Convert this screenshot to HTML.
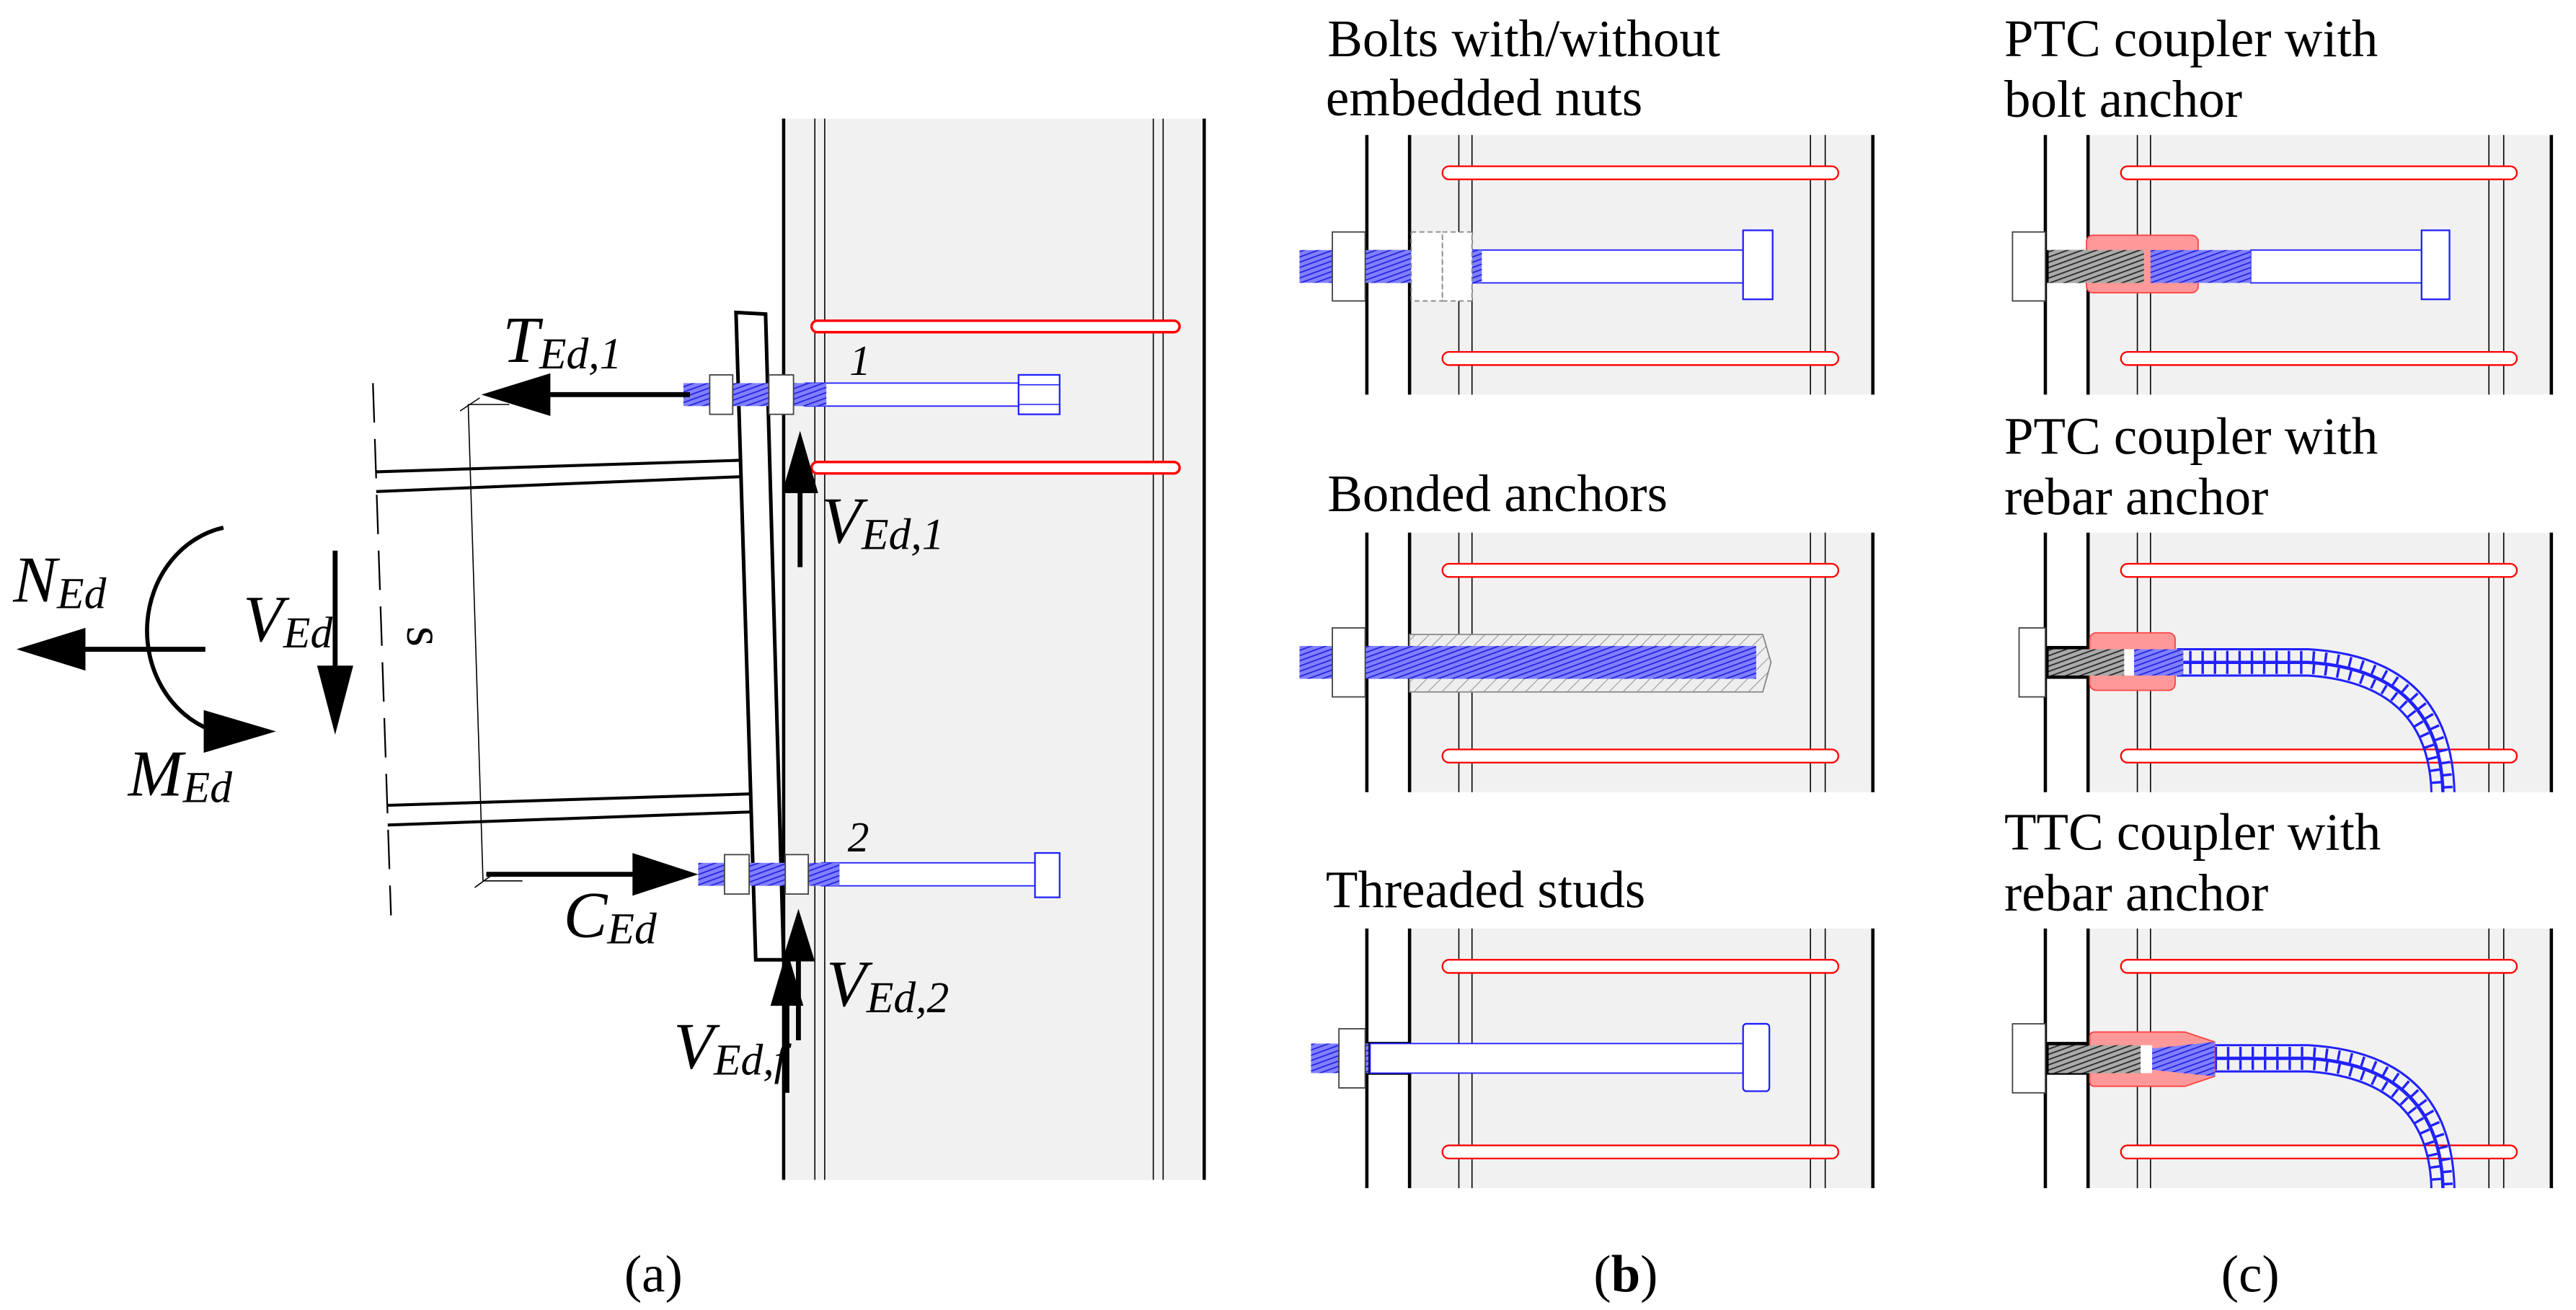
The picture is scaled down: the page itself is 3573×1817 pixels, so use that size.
<!DOCTYPE html>
<html><head><meta charset="utf-8"><style>
html,body{margin:0;padding:0;background:#fff}
svg{display:block}
svg text, svg tspan{font-family:"Liberation Serif","DejaVu Serif","Noto Serif CJK SC",serif !important}
</style></head><body>
<svg width="3573" height="1817" viewBox="0 0 1568 797" xmlns="http://www.w3.org/2000/svg" style="font-family:'Liberation Serif','DejaVu Serif',serif">
<defs>
<pattern id="hb" width="3" height="3" patternUnits="userSpaceOnUse" patternTransform="rotate(70)"><rect width="3" height="3" fill="#8080ff"/><line x1="0" y1="0" x2="0" y2="3" stroke="#2020e0" stroke-width="1.5"/></pattern>
<pattern id="hk" width="3" height="3" patternUnits="userSpaceOnUse" patternTransform="rotate(70)"><rect width="3" height="3" fill="#aaa"/><line x1="0" y1="0" x2="0" y2="3" stroke="#222" stroke-width="1.5"/></pattern>
<pattern id="hs" width="6" height="6" patternUnits="userSpaceOnUse" patternTransform="rotate(45)"><rect width="6" height="6" fill="#eee"/><line x1="0" y1="0" x2="0" y2="6" stroke="#888" stroke-width="0.8"/></pattern>
</defs>

<rect x="477" y="72" width="256" height="646" fill="#f1f1f1"/>
<g stroke="#000" fill="none">
<line x1="477" y1="72" x2="477" y2="718" stroke-width="2"/>
<line x1="733" y1="72" x2="733" y2="718" stroke-width="2"/>
<line x1="496" y1="72" x2="496" y2="718" stroke-width="0.7"/>
<line x1="502" y1="72" x2="502" y2="718" stroke-width="0.7"/>
<line x1="702" y1="72" x2="702" y2="718" stroke-width="0.7"/>
<line x1="708" y1="72" x2="708" y2="718" stroke-width="0.7"/>
</g>
<g fill="#fff" stroke="#f00" stroke-width="1.5">
<rect x="494" y="195" width="224" height="7" rx="3.5"/>
<rect x="494" y="281" width="224" height="7" rx="3.5"/>
</g>
<g stroke="#000" stroke-width="1.8" fill="none">
<line x1="229" y1="287" x2="450" y2="280"/><line x1="229" y1="299" x2="450" y2="290"/>
<line x1="236" y1="490" x2="458" y2="483"/><line x1="236" y1="502" x2="458" y2="494"/>
<line x1="227" y1="233" x2="238" y2="557" stroke-dasharray="24,10" stroke-width="1"/>
<line x1="285" y1="246" x2="294" y2="536" stroke-width="0.7"/>
<line x1="280" y1="250" x2="292" y2="242" stroke-width="0.7"/>
<line x1="289" y1="540" x2="300" y2="532" stroke-width="0.7"/>
<line x1="285" y1="246" x2="310" y2="246" stroke-width="0.7"/>
<line x1="294" y1="536" x2="318" y2="536" stroke-width="0.7"/>
</g>
<polygon points="448,190 466,191 477,584 460,584" fill="#fff" stroke="#000" stroke-width="2.2"/>
<rect x="490" y="233" width="130" height="14" fill="#fff" stroke="#2020ff" stroke-width="0.8"/>
<rect x="416" y="233" width="87" height="14" fill="url(#hb)"/>
<rect x="432" y="228" width="14" height="24" fill="#fff" stroke="#444" stroke-width="0.8"/>
<rect x="468" y="228" width="15" height="24" fill="#fff" stroke="#444" stroke-width="0.8"/>
<rect x="620" y="228" width="25" height="24" fill="#fff" stroke="#2020ff" stroke-width="1"/>
<line x1="620" y1="234" x2="645" y2="234" stroke="#2020ff" stroke-width="0.7"/><line x1="620" y1="246" x2="645" y2="246" stroke="#2020ff" stroke-width="0.7"/>
<rect x="500" y="525" width="130" height="14" fill="#fff" stroke="#2020ff" stroke-width="0.8"/>
<rect x="425" y="525" width="86" height="14" fill="url(#hb)"/>
<rect x="441" y="520" width="15" height="24" fill="#fff" stroke="#444" stroke-width="0.8"/>
<rect x="478" y="520" width="14" height="24" fill="#fff" stroke="#444" stroke-width="0.8"/>
<rect x="630" y="519" width="15" height="27" fill="#fff" stroke="#2020ff" stroke-width="1"/>
<g stroke="#000" stroke-width="3" fill="none">
<line x1="420" y1="240" x2="320" y2="240"/>
<line x1="487" y1="345" x2="487" y2="290"/>
<line x1="125" y1="395" x2="40" y2="395"/>
<line x1="204" y1="335" x2="204" y2="420"/>
<line x1="296" y1="532" x2="400" y2="532"/>
<line x1="486" y1="633" x2="486" y2="575"/>
<line x1="479" y1="665" x2="479" y2="600"/>
<path d="M136,321 A58,64 0 0 0 128,444" stroke-width="2.5"/>
</g>
<g fill="#000">
<path d="M293,240 L335,227 L335,253z"/>
<path d="M487,262 L476,300 L498,300z"/>
<path d="M10,395 L52,382 L52,408z"/>
<path d="M204,447 L193,405 L215,405z"/>
<path d="M425,532 L385,519 L385,545z"/>
<path d="M486,553 L476,585 L496,585z"/>
<path d="M479,578 L469,612 L489,612z"/>
<path d="M124,432 L168,445 L124,458z"/>
</g>
<g font-style="italic" fill="#000">
<text x="306" y="220" font-size="40">T<tspan font-size="27" dy="4">Ed,1</tspan></text>
<text x="500" y="330" font-size="40">V<tspan font-size="27" dy="4">Ed,1</tspan></text>
<text x="8" y="366" font-size="40">N<tspan font-size="27" dy="4">Ed</tspan></text>
<text x="148" y="390" font-size="40">V<tspan font-size="27" dy="4">Ed</tspan></text>
<text x="78" y="484" font-size="40">M<tspan font-size="27" dy="4">Ed</tspan></text>
<text x="343" y="570" font-size="40">C<tspan font-size="27" dy="4">Ed</tspan></text>
<text x="503" y="612" font-size="40">V<tspan font-size="27" dy="4">Ed,2</tspan></text>
<text x="410" y="650" font-size="40">V<tspan font-size="27" dy="4">Ed,f</tspan></text>
<text x="517" y="228" font-size="26">1</text>
<text x="516" y="518" font-size="26">2</text>
</g>
<text x="0" y="0" font-size="32" transform="translate(248,381) rotate(90)">s</text>
<text x="380" y="786" font-size="32">(a)</text>

<g id="pb">
<rect x="858" y="82" width="282" height="158" fill="#f1f1f1"/>
<g stroke="#000" fill="none">
<line x1="832" y1="82" x2="832" y2="240" stroke-width="2"/><line x1="858" y1="82" x2="858" y2="240" stroke-width="2"/>
<line x1="1140" y1="82" x2="1140" y2="240" stroke-width="2"/>
<line x1="888" y1="82" x2="888" y2="240" stroke-width="0.7"/><line x1="896" y1="82" x2="896" y2="240" stroke-width="0.7"/>
<line x1="1102" y1="82" x2="1102" y2="240" stroke-width="0.7"/><line x1="1111" y1="82" x2="1111" y2="240" stroke-width="0.7"/>
</g>
<g fill="#fff" stroke="#f00" stroke-width="1"><rect x="878" y="101" width="241" height="8" rx="4"/><rect x="878" y="214" width="241" height="8" rx="4"/></g>
</g>
<use href="#pb" y="242"/>
<use href="#pb" y="483"/>
<use href="#pb" x="413"/>
<use href="#pb" x="413" y="242"/>
<use href="#pb" x="413" y="483"/>

<rect x="832" y="152" width="26" height="20" fill="#000"/>
<rect x="895" y="152" width="166" height="20" fill="#fff" stroke="#2020ff" stroke-width="0.8"/>
<rect x="791" y="152" width="111" height="20" fill="url(#hb)"/>
<rect x="811" y="141" width="20" height="42" fill="#fff" stroke="#444" stroke-width="0.8"/>
<rect x="859" y="141" width="19" height="42" fill="#fff" stroke="#888" stroke-width="0.8" stroke-dasharray="3,2"/>
<rect x="878" y="141" width="18" height="42" fill="#fff" stroke="#888" stroke-width="0.8" stroke-dasharray="3,2"/>
<rect x="1061" y="140" width="18" height="42" fill="#fff" stroke="#2020ff" stroke-width="1"/>
<rect x="832" y="393" width="26" height="20" fill="#000"/>
<path d="M858,386 L1073,386 L1078,403 L1073,421 L858,421z" fill="url(#hs)" stroke="#888" stroke-width="0.8"/>
<rect x="791" y="393" width="278" height="20" fill="url(#hb)"/>
<rect x="811" y="382" width="20" height="42" fill="#fff" stroke="#444" stroke-width="0.8"/>
<rect x="832" y="634" width="26" height="20" fill="#000"/>
<rect x="834" y="635" width="227" height="18" fill="#fff" stroke="#2020ff" stroke-width="0.8"/>
<rect x="798" y="635" width="35" height="18" fill="url(#hb)"/>
<rect x="815" y="626" width="16" height="36" fill="#fff" stroke="#444" stroke-width="0.8"/>
<rect x="1061" y="623" width="16" height="41" rx="2" fill="#fff" stroke="#2020ff" stroke-width="1"/>

<rect x="1245" y="152" width="25" height="20" fill="#000"/>
<rect x="1370" y="152" width="104" height="20" fill="#fff" stroke="#2020ff" stroke-width="0.8"/>
<rect x="1270" y="143" width="68" height="35" rx="4" fill="#f99" stroke="#f44" stroke-width="0.8"/>
<rect x="1247" y="152" width="58" height="20" fill="url(#hk)"/>
<rect x="1309" y="152" width="61" height="20" fill="url(#hb)"/>
<rect x="1225" y="141" width="20" height="42" fill="#fff" stroke="#444" stroke-width="0.8"/>
<rect x="1474" y="140" width="17" height="42" fill="#fff" stroke="#2020ff" stroke-width="1"/>
<g fill="none" stroke="#2020ff" stroke-width="1.3">
<path d="M1325,395 L1405,395 Q1492,400 1494,482"/>
<path d="M1325,411 L1405,411 Q1478,416 1480,482"/>
<path d="M1325,403 L1405,403 Q1485,408 1487,482" stroke-width="2"/>
<path d="M1325,399 L1405,399 Q1488,404 1490,482" stroke-dasharray="1.5,6" stroke-width="6"/>
<path d="M1325,407 L1405,407 Q1481,412 1483,482" stroke-dasharray="1.5,6" stroke-width="6"/>
</g>
<rect x="1245" y="393" width="25" height="20" fill="#000"/>
<rect x="1272" y="385" width="52" height="35" rx="4" fill="#f99" stroke="#f44" stroke-width="0.8"/>
<rect x="1247" y="395" width="46" height="16" fill="url(#hk)"/>
<rect x="1293" y="395" width="6" height="16" fill="#fff"/>
<rect x="1299" y="395" width="30" height="16" fill="url(#hb)"/>
<rect x="1229" y="382" width="16" height="42" fill="#fff" stroke="#444" stroke-width="0.8"/>
<g fill="none" stroke="#2020ff" stroke-width="1.3">
<path d="M1348,636 L1405,636 Q1492,641 1494,723"/>
<path d="M1348,652 L1405,652 Q1478,657 1480,723"/>
<path d="M1348,644 L1405,644 Q1485,649 1487,723" stroke-width="2"/>
<path d="M1348,640 L1405,640 Q1488,645 1490,723" stroke-dasharray="1.5,6" stroke-width="6"/>
<path d="M1348,648 L1405,648 Q1481,653 1483,723" stroke-dasharray="1.5,6" stroke-width="6"/>
</g>
<rect x="1245" y="634" width="25" height="20" fill="#000"/>
<path d="M1275,628 L1330,628 L1348,634 L1348,655 L1330,661 L1275,661 Q1272,661 1272,658 L1272,631 Q1272,628 1275,628z" fill="#f99" stroke="#f44" stroke-width="0.8"/>
<rect x="1247" y="636" width="56" height="17" fill="url(#hk)"/>
<rect x="1303" y="636" width="7" height="17" fill="#fff"/>
<path d="M1310,638 L1348,634 L1348,655 L1310,651z" fill="url(#hb)"/>
<rect x="1225" y="623" width="20" height="42" fill="#fff" stroke="#444" stroke-width="0.8"/>

<g font-size="32" fill="#000">
<text x="808" y="34">Bolts with/without</text>
<text x="807" y="70">embedded nuts</text>
<text x="808" y="311">Bonded anchors</text>
<text x="807" y="552">Threaded studs</text>
<text x="1220" y="34">PTC coupler with</text>
<text x="1220" y="71">bolt anchor</text>
<text x="1220" y="276">PTC coupler with</text>
<text x="1220" y="313">rebar anchor</text>
<text x="1220" y="517">TTC coupler with</text>
<text x="1220" y="554">rebar anchor</text>
<text x="970" y="786">(<tspan font-weight="bold">b</tspan>)</text>
<text x="1352" y="786">(c)</text>
</g>
</svg>
</body></html>
